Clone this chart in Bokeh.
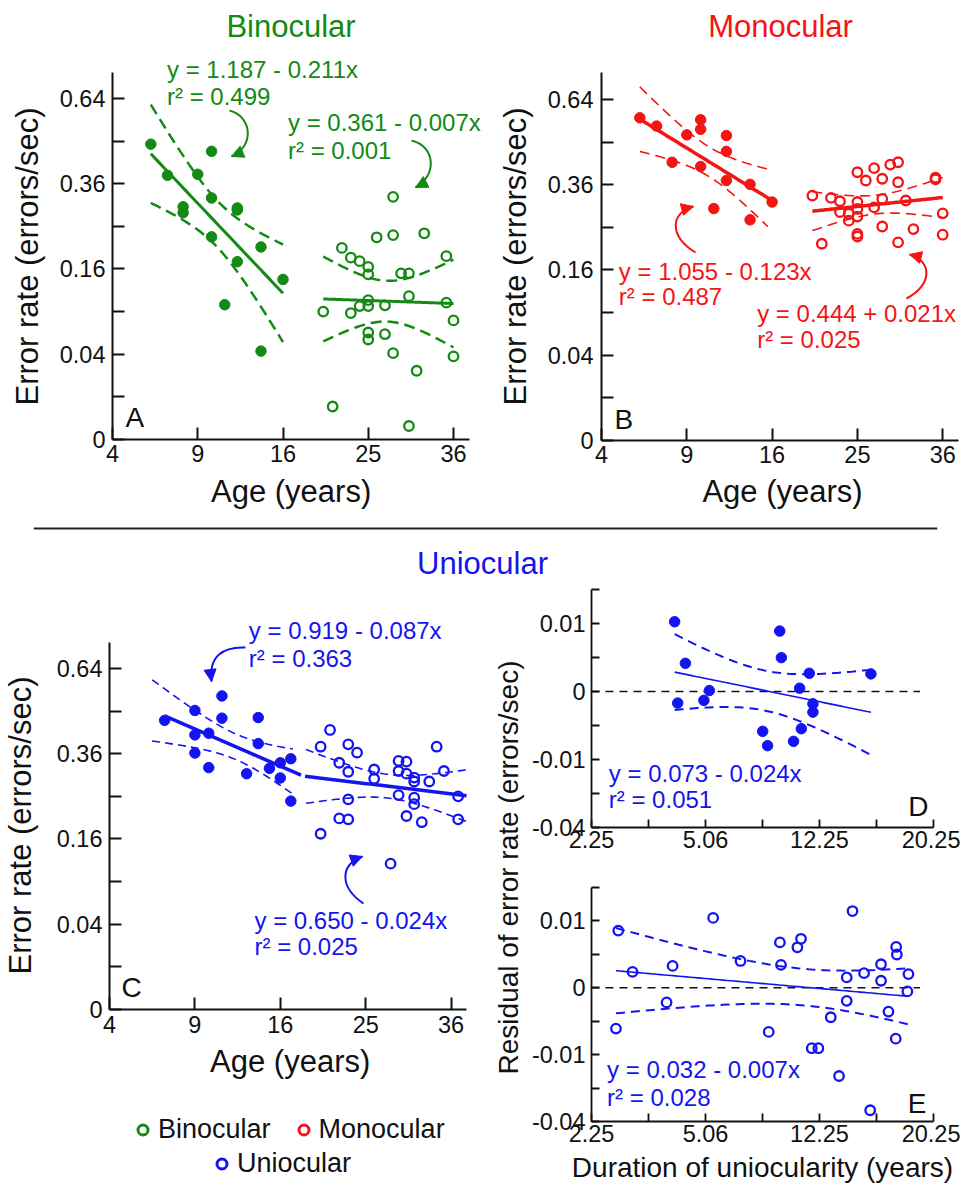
import numpy as np
from bokeh.plotting import figure
from bokeh.layouts import column, row
from bokeh.models import Range1d, FixedTicker, Label, Arrow, NormalHead, Legend, LegendItem, Span
from bokeh.embed import file_html
from bokeh.resources import INLINE

FONT = "Liberation Sans"
GREEN, RED, BLUE, INK = "#138a13", "#f51414", "#1414f0", "#111111"

# ---------------- data ----------------
# Panel A - binocular
bino_child_age = [6, 7, 8, 8, 9, 10, 10, 10, 11, 12, 12, 12, 14, 14, 16]
bino_child_err = [0.480, 0.384, 0.298, 0.283, 0.387, 0.457, 0.321, 0.226, 0.100, 0.295, 0.290, 0.174, 0.204, 0.043, 0.141]
bino_adult_age = [20, 21, 22, 23, 23, 24, 24, 25, 25, 25, 25, 25, 25, 26, 27, 27, 28, 28, 28, 29, 30, 30, 30, 31, 32, 35, 35, 36, 36]
bino_adult_err = [0.090, 0.006, 0.202, 0.182, 0.088, 0.175, 0.098, 0.164, 0.150, 0.107, 0.098, 0.063, 0.055,
                  0.225, 0.099, 0.061, 0.324, 0.230, 0.041, 0.152, 0.152, 0.113, 0.001, 0.026, 0.234, 0.185, 0.103, 0.078, 0.038]
# Panel B - monocular
mono_child_age = [6, 7, 8, 9, 10, 10, 10, 11, 12, 12, 12, 14, 14, 16]
mono_child_err = [0.573, 0.544, 0.426, 0.514, 0.566, 0.533, 0.413, 0.296, 0.512, 0.460, 0.372, 0.361, 0.268, 0.313]
mono_adult_age = [20, 21, 22, 23, 23, 24, 24, 25, 25, 25, 25, 25, 25, 26, 27, 27, 28, 28, 28, 29, 30, 30, 30, 31, 32, 35, 35, 36, 36]
mono_adult_err = [0.330, 0.213, 0.324, 0.315, 0.287, 0.283, 0.266, 0.396, 0.313, 0.295, 0.276, 0.235, 0.229,
                  0.372, 0.408, 0.299, 0.377, 0.321, 0.252, 0.419, 0.426, 0.367, 0.216, 0.317, 0.246, 0.380, 0.375, 0.284, 0.233]
mono_child_band_span = [6.0, 15.6]
# Panel C - uniocular
uni_child_age = [7, 9, 9, 9, 10, 10, 11, 11, 13, 14, 14, 15, 16, 16, 17, 17]
uni_child_err = [0.460, 0.492, 0.415, 0.362, 0.420, 0.322, 0.541, 0.467, 0.306, 0.469, 0.389, 0.320, 0.335, 0.295, 0.346, 0.239]
uni_adult_age = [20, 20, 21, 22, 22, 23, 23, 23, 23, 24, 26, 26, 28, 29, 29, 29, 30, 30, 30, 31, 31, 31, 31, 32, 33, 34, 35, 37, 37]
uni_adult_err = [0.170, 0.380, 0.430, 0.335, 0.201, 0.387, 0.311, 0.243, 0.199, 0.363, 0.317, 0.293, 0.117,
                 0.340, 0.313, 0.253, 0.338, 0.306, 0.206, 0.296, 0.286, 0.247, 0.232, 0.193, 0.286, 0.380, 0.313, 0.250, 0.199]
uni_child_span = [7.0, 18.0]
uni_child_band_span = [6.25, 17.2]
uni_adult_span = [18.4, 38.2]
uni_adult_band_span = [18.5, 38.2]
# Panel D - uniocular children: duration vs residual
d_duration = [4.97, 5.40, 5.09, 6.18, 6.42, 9.01, 9.27, 9.93, 10.02, 10.71, 11.06, 11.16, 11.63, 11.85, 11.85, 15.61]
d_residual = [0.01053, 0.00172, -0.00029, -0.00017, 0.000002, -0.00343, -0.00634, 0.00790, 0.00248, -0.00537,
              0.000024, -0.00299, 0.00072, -0.00033, -0.00092, 0.00067]
# Panel E - uniocular adults: duration vs residual
e_duration = [3.01, 2.94, 3.46, 4.66, 4.89, 6.59, 7.88, 9.33, 9.94, 10.00, 10.93, 11.14, 11.78, 12.18, 12.95,
              13.48, 13.98, 13.98, 14.36, 15.14, 15.56, 16.32, 16.32, 16.85, 17.41, 17.46, 17.38, 18.32, 18.24]
e_residual = [0.00731, -0.00373, 0.00057, -0.00048, 0.00107, 0.01092, 0.00161, -0.00436, 0.00461, 0.00117, 0.00367,
              0.00537, -0.00817, -0.00817, -0.00194, -0.01740, 0.00024, -0.00038, 0.01318, 0.00048, -0.03356,
              0.00124, 0.00011, -0.00127, 0.00373, 0.00248, -0.00580, 0.00042, -0.00003]
zero_line_end = 19.2

# regression coefficients (intercept, slope) in sqrt space
coef_bino_child, coef_bino_adult = (1.187, -0.211), (0.361, -0.007)
coef_mono_child, coef_mono_adult = (1.055, -0.123), (0.444, 0.021)
coef_uni_child, coef_uni_adult = (0.919, -0.087), (0.650, -0.024)
coef_d_line = (0.105, -0.0343)   # line as drawn in panel D (signed-sqrt space)

eq_texts = {
    "A1": ("y = 1.187 - 0.211x", "r² = 0.499"), "A2": ("y = 0.361 - 0.007x", "r² = 0.001"),
    "B1": ("y = 1.055 - 0.123x", "r² = 0.487"), "B2": ("y = 0.444 + 0.021x", "r² = 0.025"),
    "C1": ("y = 0.919 - 0.087x", "r² = 0.363"), "C2": ("y = 0.650 - 0.024x", "r² = 0.025"),
    "D": ("y = 0.073 - 0.024x", "r² = 0.051"), "E": ("y = 0.032 - 0.007x", "r² = 0.028"),
}

age_ticks = [4, 9, 16, 25, 36]
age_tick_labels = ["4", "9", "16", "25", "36"]
err_ticks = [0, 0.04, 0.16, 0.36, 0.64]
err_tick_labels = ["0", "0.04", "0.16", "0.36", "0.64"]
err_minor = [0.01, 0.09, 0.25, 0.49]
dur_ticks = [2.25, 6.25, 12.25, 20.25]
dur_tick_labels = ["2.25", "5.06", "12.25", "20.25"]
dur_minor = [4, 9, 16]
res_ticks = [0.01, 0, -0.01, -0.04]
res_tick_labels = ["0.01", "0", "-0.01", "-0.04"]
res_minor = [0.0225, 0.0025, -0.0025, -0.0225]


def sq(v):
    v = np.asarray(v, dtype=float)
    return np.sign(v) * np.sqrt(np.abs(v))


def t975(df):
    z = 1.959964
    g1 = (z**3 + z) / 4
    g2 = (5 * z**5 + 16 * z**3 + 3 * z) / 96
    g3 = (3 * z**7 + 19 * z**5 + 17 * z**3 - 15 * z) / 384
    return z + g1 / df + g2 / df**2 + g3 / df**3


def fit_band(x, y, lo, hi, coef=None):
    x = np.asarray(x, float); y = np.asarray(y, float)
    n = len(x)
    if coef is None:
        slope, icpt = np.polyfit(x, y, 1)
    else:
        icpt, slope = coef
    xs = np.linspace(lo, hi, 80)
    yh = icpt + slope * xs
    res = y - (icpt + slope * x)
    s = np.sqrt(np.sum(res**2) / (n - 2))
    sxx = np.sum((x - x.mean())**2)
    half = t975(n - 2) * s * np.sqrt(1.0 / n + (xs - x.mean())**2 / sxx)
    return xs, yh, yh - half, yh + half


def base_fig(w, h, l, r, t, b, xr, yr, axes=True):
    kw = {} if axes else dict(x_axis_type=None, y_axis_type=None)
    p = figure(width=w, height=h, x_range=Range1d(*xr), y_range=Range1d(*yr), title=None,
               output_backend="svg", toolbar_location=None,
               min_border_left=l, min_border_right=r, min_border_top=t, min_border_bottom=b, **kw)
    p.outline_line_color = None
    p.grid.visible = False
    p.background_fill_color = "white"
    p.border_fill_color = "white"
    return p


def set_axis(ax, ticks, labels, minor, label, tick_len, lw, tick_size, label_size, maj_so, lab_so,
             bounds="auto", fixed=None):
    tk = [float(t) for t in sq(ticks)]
    ax.ticker = FixedTicker(ticks=tk, minor_ticks=[float(t) for t in sq(minor)])
    ax.major_label_overrides = {t: s for t, s in zip(tk, labels)}
    ax.axis_label = label
    ax.bounds = bounds
    if fixed is not None:
        ax.fixed_location = fixed
    ax.axis_line_width = lw
    ax.axis_line_color = INK
    ax.major_tick_in = tick_len; ax.major_tick_out = 0
    ax.minor_tick_in = tick_len; ax.minor_tick_out = 0
    ax.major_tick_line_width = lw; ax.minor_tick_line_width = lw
    ax.major_tick_line_color = INK; ax.minor_tick_line_color = INK
    ax.major_label_text_font = FONT
    ax.major_label_text_font_size = f"{tick_size}px"
    ax.major_label_text_color = INK
    ax.axis_label_text_font = FONT
    ax.axis_label_text_font_size = f"{label_size}px"
    ax.axis_label_text_font_style = "normal"
    ax.axis_label_text_color = INK
    ax.major_label_standoff = maj_so
    ax.axis_label_standoff = lab_so


def mapper(left, bottom, x0, y0, kx, ky):
    def f(sx, sy):
        return x0 + (sx - left) / kx, y0 + (bottom - sy) / ky
    return f


def add_text(p, m, sx, sy, text, color, size, align="left", angle=0.0):
    # sx: left (or centre) of the text, sy: vertical centre of the text (page pixels)
    x, y = m(sx, sy)
    p.add_layout(Label(x=x, y=y, text=text, text_color=color, text_font=FONT, angle=angle,
                       text_font_size=f"{size}px", text_align=align, text_baseline="middle"))


def add_eq(p, m, sx, sy1, sy2, key, color, size=24):
    add_text(p, m, sx, sy1, eq_texts[key][0], color, size)
    add_text(p, m, sx, sy2, eq_texts[key][1], color, size)


def draw_arrow(p, m, pts, color, lw=2.0):
    P = [m(*q) for q in pts]
    p.bezier(x0=[P[0][0]], y0=[P[0][1]], cx0=[P[1][0]], cy0=[P[1][1]],
             cx1=[P[2][0]], cy1=[P[2][1]], x1=[P[3][0]], y1=[P[3][1]],
             line_color=color, line_width=lw)
    (sx2, sy2), (sx3, sy3) = pts[2], pts[3]
    d = np.hypot(sx3 - sx2, sy3 - sy2)
    ux, uy = (sx3 - sx2) / d, (sy3 - sy2) / d
    xs, ys = m(sx3 - 3 * ux, sy3 - 3 * uy)
    p.add_layout(Arrow(end=NormalHead(size=12, fill_color=color, line_color=color, line_width=1),
                       x_start=xs, y_start=ys, x_end=P[3][0], y_end=P[3][1],
                       line_color=color, line_width=lw))


def group(p, x, y, color, filled, coef, span, band_span, lw_line, lw_band, dash, msize=10.5, mlw=2.3):
    x = np.asarray(x, float); y = np.asarray(y, float)
    xs, yh, lo, hi = fit_band(x, y, band_span[0], band_span[1], coef)
    p.line(xs, lo, line_color=color, line_width=lw_band, line_dash=dash)
    p.line(xs, hi, line_color=color, line_width=lw_band, line_dash=dash)
    xl, yl, _, _ = fit_band(x, y, span[0], span[1], coef)
    p.line(xl, yl, line_color=color, line_width=lw_line)
    if filled:
        p.scatter(x, y, marker="circle", size=msize, fill_color=color, line_color=color)
    else:
        p.scatter(x, y, marker="circle", size=msize - 1, fill_color=None, line_color=color, line_width=mlw)


def age_panel(w, h, ox, oy, kx, ky, xb, yb, xmaj_so, ymaj_so):
    # the frame fills the whole figure; the axes are pinned at age 4 / error 0 and bounded
    p = base_fig(w, h, 0, 0, 0, 0, (2 - ox / kx, 2 + (w - ox) / kx), (-(h - oy) / ky, oy / ky))
    set_axis(p.xaxis[0], age_ticks, age_tick_labels, [], None, 12, 2, 23.5, 31,
             xmaj_so, 0, (2, xb), 0.0)
    set_axis(p.yaxis[0], err_ticks, err_tick_labels, err_minor, None, 12, 2, 23.5, 31,
             ymaj_so, 0, (0, yb), 2.0)
    return p


def sspan(a):
    a = np.sqrt(np.asarray(a, float))
    return [a.min(), a.max()]


XLAB, YLAB = "Age (years)", "Error rate (errors/sec)"

# ---------------- Panel A ----------------
pA = age_panel(490, 510, 112, 439, 85.25, 426.3, 2 + 357 / 85.25, 367.3 / 426.3, 5, 7)
mA = mapper(112, 439, 2, 0, 85.25, 426.3)
group(pA, sq(bino_child_age), sq(bino_child_err), GREEN, True, coef_bino_child,
      sspan(bino_child_age), sspan(bino_child_age), 3, 2.5, "11 6")
group(pA, sq(bino_adult_age), sq(bino_adult_err), GREEN, False, coef_bino_adult,
      sspan(bino_adult_age), sspan(bino_adult_age), 3, 2.5, "11 6")
add_text(pA, mA, 290.5, 25.5, "Binocular", GREEN, 31, "center")
add_eq(pA, mA, 166.5, 68.8, 95.7, "A1", GREEN)
add_eq(pA, mA, 287.5, 122.2, 149.5, "A2", GREEN)
draw_arrow(pA, mA, [(229, 110), (252, 116), (254, 146), (231, 156)], GREEN)
draw_arrow(pA, mA, [(411, 140), (436, 146), (436, 176), (415, 187)], GREEN)
add_text(pA, mA, 125, 417, "A", INK, 28)
add_text(pA, mA, 290.6, 490.8, XLAB, INK, 31, "center")
add_text(pA, mA, 26.5, 256, YLAB, INK, 31, "center", np.pi / 2)

# ---------------- Panel B ----------------
pB = age_panel(470, 510, 111, 440, 85.3, 426.3, 2 + 357 / 85.3, 368 / 426.3, 5, 8)
mB = mapper(601, 440, 2, 0, 85.3, 426.3)
group(pB, sq(mono_child_age), sq(mono_child_err), RED, True, coef_mono_child,
      sspan(mono_child_age), sspan(mono_child_band_span), 3.5, 1.6, "10 6")
group(pB, sq(mono_adult_age), sq(mono_adult_err), RED, False, coef_mono_adult,
      sspan(mono_adult_age), sspan(mono_adult_age), 3.5, 1.6, "10 6")
add_text(pB, mB, 780, 25.5, "Monocular", RED, 31, "center")
add_eq(pB, mB, 618.3, 270.5, 296.2, "B1", RED)
add_eq(pB, mB, 756.7, 313.3, 339.3, "B2", RED)
draw_arrow(pB, mB, [(695, 252), (668, 235), (670, 212), (693, 206)], RED)
draw_arrow(pB, mB, [(906, 298), (932, 285), (932, 260), (909, 254)], RED)
add_text(pB, mB, 614, 419, "B", INK, 28)
add_text(pB, mB, 782, 490.8, XLAB, INK, 31, "center")
add_text(pB, mB, 514.5, 256, YLAB, INK, 31, "center", np.pi / 2)

# ---------------- separator strip ----------------
strip = base_fig(960, 78, 33, 23, 0, 0, (0, 904), (0, 78), axes=False)
strip.add_layout(Span(location=60, dimension="width", line_color="#222222", line_width=2))
strip.add_layout(Label(x=449, y=25, text="Uniocular", text_color=BLUE, text_font=FONT,
                       text_font_size="31px", text_align="center", text_baseline="middle"))

# ---------------- Panel C ----------------
# figure spans page y 588..1085; axes origin at page (109, 1009)
pC = age_panel(491, 497, 109, 421, 85.4, 426.3, 2 + 357 / 85.4, 367 / 426.3, 6, 7)
mC = mapper(109, 1009, 2, 0, 85.4, 426.3)
group(pC, sq(uni_child_age), sq(uni_child_err), BLUE, True, coef_uni_child,
      list(np.sqrt(uni_child_span)), list(np.sqrt(uni_child_band_span)), 3.5, 1.6, "8 5")
group(pC, sq(uni_adult_age), sq(uni_adult_err), BLUE, False, coef_uni_adult,
      list(np.sqrt(uni_adult_span)), list(np.sqrt(uni_adult_band_span)), 3.5, 1.6, "8 5")
add_eq(pC, mC, 248.3, 630, 658, "C1", BLUE)
add_eq(pC, mC, 254, 920.3, 945.8, "C2", BLUE)
draw_arrow(pC, mC, [(245, 647), (222, 646), (208, 656), (211, 681)], BLUE)
draw_arrow(pC, mC, [(363, 903), (338, 886), (340, 864), (362, 856)], BLUE)
add_text(pC, mC, 121, 987, "C", INK, 28)
add_text(pC, mC, 289.7, 1060.8, XLAB, INK, 31, "center")
add_text(pC, mC, 19.5, 825, YLAB, INK, 31, "center", np.pi / 2)

# ---------------- legend strip ----------------
leg = base_fig(491, 103, 0, 0, 0, 0, (0, 1), (0, 1), axes=False)
r_b = leg.scatter([-10], [-10], marker="circle", size=10, fill_color=None, line_color=GREEN, line_width=3)
r_m = leg.scatter([-10], [-10], marker="circle", size=10, fill_color=None, line_color=RED, line_width=3)
r_u = leg.scatter([-10], [-10], marker="circle", size=10, fill_color=None, line_color=BLUE, line_width=3)


def make_legend(items, loc):
    return Legend(items=items, location=loc, orientation="horizontal", padding=0, margin=0,
                  spacing=20, glyph_width=25, glyph_height=25, label_standoff=3,
                  label_text_font=FONT, label_text_font_size="27px", label_text_color=INK,
                  border_line_color=None, background_fill_alpha=0)


leg.add_layout(make_legend([LegendItem(label="Binocular", renderers=[r_b]),
                            LegendItem(label="Monocular", renderers=[r_m])], (130, 43)))
leg.add_layout(make_legend([LegendItem(label="Uniocular", renderers=[r_u])], (209, 9)))

# ---------------- shared y label for D/E ----------------
lab = base_fig(36, 600, 0, 0, 0, 0, (0, 36), (0, 600), axes=False)
lab.add_layout(Label(x=17, y=321, text="Residual of error rate (errors/sec)", angle=np.pi / 2,
                     text_color=INK, text_font=FONT, text_font_size="28px",
                     text_align="center", text_baseline="middle"))


def resid_panel(w, h, l, r, t, b, xlabel, lab_so):
    p = base_fig(w, h, l, r, t, b, (1.5, 4.5), (-0.2, 0.15))
    set_axis(p.xaxis[0], dur_ticks, dur_tick_labels, dur_minor, xlabel, 8, 1.8, 23.5, 28, 3, lab_so)
    set_axis(p.yaxis[0], res_ticks, res_tick_labels, res_minor, None, 8, 1.8, 23.5, 28, 6, 0)
    p.line([1.5, float(np.sqrt(zero_line_end))], [0, 0], line_color=INK, line_width=1.6, line_dash="8 6")
    return p


# ---------------- Panel D ----------------
pD = resid_panel(433, 270, 64, 27, 1, 31, None, 0)
mD = mapper(591, 826.7, 1.5, -0.2, 114.1, 682.5)
group(pD, sq(d_duration), sq(d_residual), BLUE, True, coef_d_line, sspan(d_duration), sspan(d_duration), 1.6, 2, "9 6")
add_eq(pD, mD, 608.3, 772.5, 799, "D", BLUE)
add_text(pD, mD, 908, 806, "D", INK, 28)

# ---------------- Panel E ----------------
pE = resid_panel(433, 330, 64, 27, 29, 67, "Duration of uniocularity (years)", 7)
mE = mapper(591.7, 1126.7, 1.5, -0.2, 114, 682.6)
group(pE, sq(e_duration), sq(e_residual), BLUE, False, None, sspan(e_duration), sspan(e_duration), 1.6, 2, "9 6")
add_eq(pE, mE, 607.3, 1074, 1102, "E", BLUE)
add_text(pE, mE, 908, 1108, "E", INK, 28)

layout = column(row(pA, pB), strip, row(column(pC, leg), lab, column(pD, pE)))

open("out.html", "w").write(file_html(layout, INLINE))
